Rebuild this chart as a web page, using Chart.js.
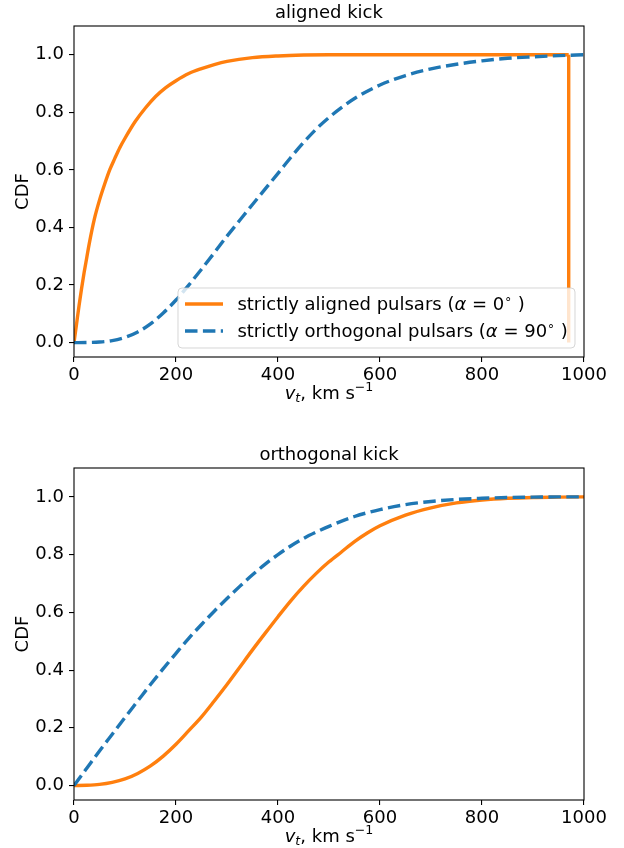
<!DOCTYPE html>
<html><head><meta charset="utf-8">
<script src="https://cdn.jsdelivr.net/npm/chart.js@4"></script>
<style>
html,body{margin:0;padding:0;background:#fff}
#wrap{position:relative;width:624px;height:848px;background:#fff}
canvas{position:absolute;left:0}
</style>
</head><body>
<div id="wrap">
<canvas id="c1" width="624" height="424" style="top:0"></canvas>
<canvas id="c2" width="624" height="424" style="top:424px"></canvas>
</div>
<script>
// ---------- data ----------
const velocityTicks = [0, 200, 400, 600, 800, 1000];
const cdfTicks = [0, 0.2, 0.4, 0.6, 0.8, 1.0];
const panelTitles = ['aligned kick', 'orthogonal kick'];
const seriesNames = ['strictly aligned pulsars', 'strictly orthogonal pulsars'];
const seriesAngles = ['0', '90'];
const yAxisTitle = 'CDF';

// panel 1: aligned kick
const alignedKickAlignedV   = [0, 5, 10, 15, 20, 25, 30, 40, 50, 60, 70, 80, 90, 100, 120, 140, 160, 180, 200, 225, 250, 275, 300, 350, 400, 450, 500, 600, 700, 800, 900, 970];
const alignedKickAlignedCDF = [0, 0.065, 0.13, 0.19, 0.245, 0.295, 0.345, 0.43, 0.495, 0.55, 0.6, 0.64, 0.678, 0.71, 0.768, 0.815, 0.855, 0.886, 0.91, 0.935, 0.952, 0.966, 0.977, 0.99, 0.996, 0.999, 1, 1, 1, 1, 1, 1];
const alignedKickCutoffV    = [970, 970];
const alignedKickCutoffCDF  = [1, 0];
const alignedKickOrthoV     = [0, 25, 50, 75, 100, 125, 150, 175, 200, 225, 250, 275, 300, 325, 350, 375, 400, 425, 450, 475, 500, 525, 550, 600, 650, 700, 750, 800, 850, 900, 950, 1000];
const alignedKickOrthoCDF   = [0, 0.0003, 0.002, 0.007, 0.018, 0.037, 0.065, 0.103, 0.148, 0.2, 0.255, 0.312, 0.37, 0.425, 0.48, 0.534, 0.588, 0.643, 0.695, 0.742, 0.782, 0.817, 0.848, 0.895, 0.928, 0.951, 0.967, 0.979, 0.988, 0.993, 0.997, 1.0];

// panel 2: orthogonal kick
const orthoKickAlignedV     = [0, 25, 50, 75, 100, 125, 150, 175, 200, 225, 250, 275, 300, 325, 350, 375, 400, 425, 450, 475, 500, 525, 550, 575, 600, 650, 700, 750, 800, 850, 900, 950, 1000];
const orthoKickAlignedCDF   = [0, 0.001, 0.004, 0.011, 0.023, 0.042, 0.068, 0.102, 0.143, 0.19, 0.238, 0.293, 0.35, 0.41, 0.47, 0.528, 0.585, 0.64, 0.69, 0.735, 0.775, 0.81, 0.845, 0.875, 0.9, 0.937, 0.962, 0.979, 0.989, 0.995, 0.998, 0.999, 1.0];
const orthoKickOrthoV       = [0, 25, 50, 75, 100, 125, 150, 175, 200, 225, 250, 275, 300, 325, 350, 375, 400, 425, 450, 475, 500, 550, 600, 650, 700, 750, 800, 850, 900, 950, 1000];
const orthoKickOrthoCDF     = [0, 0.06, 0.12, 0.178, 0.236, 0.293, 0.35, 0.405, 0.458, 0.51, 0.558, 0.604, 0.648, 0.69, 0.73, 0.767, 0.80, 0.83, 0.856, 0.878, 0.898, 0.932, 0.956, 0.973, 0.984, 0.991, 0.995, 0.998, 0.999, 1.0, 1.0];

// ---------- style ----------
const ORANGE = '#ff7f0e', BLUE = '#1f77b4';
const FONT = '"DejaVu Sans"';
const LW = 3.4;
const DASH = [12.5, 5.4];

Chart.defaults.font.family = FONT;
Chart.defaults.font.size = 18;
Chart.defaults.color = '#000';

const pts = (xs, ys) => xs.map((x, i) => ({x: x, y: ys[i]}));

function richWidth(ctx, parts) {
  let w = 0;
  for (const p of parts) {
    ctx.font = (p.it ? 'italic ' : '') + (p.s || 18) + 'px ' + FONT;
    p._w = ctx.measureText(p.t).width;
    w += p._w;
  }
  return w;
}
function drawRich(ctx, x, y, parts, align) {
  const w = richWidth(ctx, parts);
  let cx = align === 'center' ? x - w / 2 : x;
  ctx.textAlign = 'left';
  ctx.textBaseline = 'alphabetic';
  for (const p of parts) {
    ctx.font = (p.it ? 'italic ' : '') + (p.s || 18) + 'px ' + FONT;
    ctx.fillText(p.t, cx, y + (p.dy || 0));
    cx += p._w;
  }
}

function legendParts(i) {
  return [
    {t: seriesNames[i] + ' ('},
    {t: 'α', it: true},
    {t: ' = ' + seriesAngles[i]},
    {t: '∘', s: 12.6, dy: -7},
    {t: ' )'}
  ];
}

function makePlugin(title, showLegend) {
  return {
    id: 'decor',
    afterDatasetsDraw(chart) {
      const ctx = chart.ctx, a = chart.chartArea;
      ctx.save();
      ctx.strokeStyle = '#000';
      ctx.lineWidth = 1.1;
      ctx.strokeRect(a.left, a.top, a.right - a.left, a.bottom - a.top);
      if (showLegend) {
        const bw = 397, bh = 60;
        const bx = a.right - 9 - bw, by = a.bottom - 9 - bh;
        const r = 4;
        ctx.beginPath();
        ctx.moveTo(bx + r, by);
        ctx.arcTo(bx + bw, by, bx + bw, by + bh, r);
        ctx.arcTo(bx + bw, by + bh, bx, by + bh, r);
        ctx.arcTo(bx, by + bh, bx, by, r);
        ctx.arcTo(bx, by, bx + bw, by, r);
        ctx.closePath();
        ctx.fillStyle = 'rgba(255,255,255,0.8)';
        ctx.fill();
        ctx.strokeStyle = 'rgba(204,204,204,0.8)';
        ctx.lineWidth = 1;
        ctx.stroke();
        const rows = [by + 16, by + 43];
        const cols = [ORANGE, BLUE];
        rows.forEach((ry, i) => {
          ctx.beginPath();
          ctx.strokeStyle = cols[i];
          ctx.lineWidth = LW;
          ctx.setLineDash(i === 1 ? DASH : []);
          ctx.moveTo(bx + 7, ry);
          ctx.lineTo(bx + 45, ry);
          ctx.stroke();
          ctx.setLineDash([]);
          ctx.fillStyle = '#000';
          drawRich(ctx, bx + 59.4, ry + 6, legendParts(i), 'left');
        });
      }
      ctx.restore();
    },
    afterDraw(chart) {
      const ctx = chart.ctx, a = chart.chartArea;
      const cx = (a.left + a.right) / 2;
      ctx.save();
      ctx.fillStyle = '#000';
      ctx.font = '18px ' + FONT;
      ctx.textAlign = 'center';
      ctx.textBaseline = 'alphabetic';
      ctx.fillText(title, cx, a.top - 8.3);
      drawRich(ctx, cx, a.bottom + 41.7, [
        {t: 'v', it: true},
        {t: 't', it: true, s: 12.6, dy: 3.5},
        {t: ', km s'},
        {t: '−1', s: 12.6, dy: -7.5}
      ], 'center');
      ctx.translate(28.2, (a.top + a.bottom) / 2);
      ctx.rotate(-Math.PI / 2);
      ctx.font = '18px ' + FONT;
      ctx.textAlign = 'center';
      ctx.textBaseline = 'alphabetic';
      ctx.fillText(yAxisTitle, 0, 0);
      ctx.restore();
    }
  };
}

function makeChart(id, title, datasets, padTop, xHeight, showLegend) {
  return new Chart(document.getElementById(id), {
    type: 'line',
    data: {datasets: datasets},
    options: {
      responsive: false,
      animation: false,
      devicePixelRatio: 1,
      layout: {padding: {top: padTop, right: 40, left: 0, bottom: 0}},
      plugins: {legend: {display: false}, tooltip: {enabled: false}, title: {display: false}},
      elements: {point: {radius: 0}},
      scales: {
        x: {
          type: 'linear', min: 0, max: 1000,
          afterBuildTicks: s => { s.ticks = velocityTicks.map(v => ({value: v})); },
          ticks: {color: '#000', font: {size: 18}, padding: 3, maxRotation: 0, autoSkip: false, callback: v => String(v)},
          grid: {display: true, drawOnChartArea: false, drawTicks: true, tickLength: 5, color: '#000', lineWidth: 1.1},
          border: {display: false},
          afterFit: s => { s.height = xHeight; }
        },
        y: {
          type: 'linear', min: -0.05, max: 1.1,
          afterBuildTicks: s => { s.ticks = cdfTicks.map(v => ({value: v})); },
          ticks: {color: '#000', font: {size: 18}, padding: 5, autoSkip: false, callback: v => v.toFixed(1)},
          grid: {display: true, drawOnChartArea: false, drawTicks: true, tickLength: 5, color: '#000', lineWidth: 1.1},
          border: {display: false},
          afterFit: s => { s.width = 74; }
        }
      }
    },
    plugins: [makePlugin(title, showLegend)]
  });
}

function lineDs(data, color, dashed, order, mono) {
  return {
    data: data,
    borderColor: color,
    backgroundColor: color,
    borderWidth: LW,
    borderDash: dashed ? DASH : [],
    pointRadius: 0,
    fill: false,
    order: order,
    cubicInterpolationMode: mono ? 'monotone' : 'default',
    tension: 0
  };
}

makeChart('c1', panelTitles[0], [
  lineDs(pts(alignedKickAlignedV, alignedKickAlignedCDF), ORANGE, false, 1, true),
  lineDs(pts(alignedKickCutoffV, alignedKickCutoffCDF), ORANGE, false, 1, false),
  lineDs(pts(alignedKickOrthoV, alignedKickOrthoCDF), BLUE, true, 0, true)
], 26, 67, true);

makeChart('c2', panelTitles[1], [
  lineDs(pts(orthoKickAlignedV, orthoKickAlignedCDF), ORANGE, false, 1, true),
  lineDs(pts(orthoKickOrthoV, orthoKickOrthoCDF), BLUE, true, 0, true)
], 44, 48, false);
</script>
</body></html>
